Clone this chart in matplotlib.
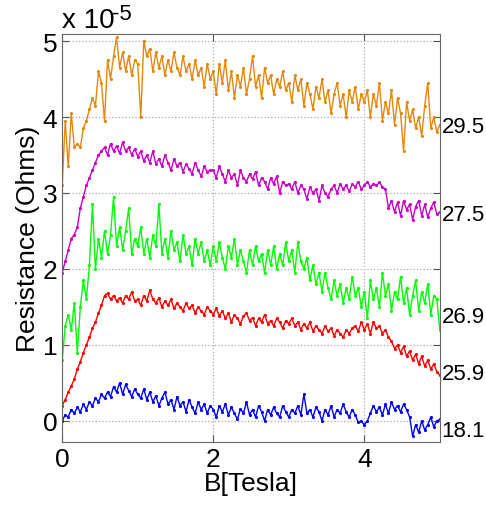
import numpy as np
import matplotlib
matplotlib.use("Agg")
import matplotlib.pyplot as plt

plt.rcParams['font.family'] = ['Liberation Sans', 'DejaVu Sans']

# field values, 0 .. 5 Tesla in steps of 0.04
B = np.linspace(0, 5, 126)

# resistance in units of 1e-5 Ohms
r_295 = [3.1, 3.95, 3.35, 4.05, 3.6, 3.65, 3.6, 3.85, 3.95, 4.1, 4.25, 4.15, 4.6, 4.45, 3.95, 4.75, 4.5, 4.8, 5.05, 4.65, 4.85, 4.6, 4.8, 4.55, 4.75,
         4.7, 4.0, 5.0, 4.8, 4.9, 4.6, 4.85, 4.65, 4.8, 4.55, 4.75, 4.6, 4.85, 4.65, 4.55, 4.8, 4.6, 4.7, 4.5, 4.75, 4.55, 4.65, 4.4, 4.7, 4.5,
         4.6, 4.3, 4.7, 4.45, 4.75, 4.35, 4.6, 4.25, 4.55, 4.4, 4.65, 4.3, 4.5, 4.8, 4.4, 4.55, 4.25, 4.65, 4.45, 4.55, 4.3, 4.5, 4.4, 4.6, 4.35,
         4.45, 4.2, 4.55, 4.35, 4.5, 4.15, 4.45, 4.3, 4.1, 4.4, 4.25, 4.5, 4.2, 4.35, 4.05, 4.3, 4.45, 4.15, 4.3, 4.0, 4.35, 4.2, 4.4, 4.1, 4.3,
         4.2, 4.35, 4.0, 4.3, 4.15, 4.45, 3.95, 4.2, 4.05, 4.35, 3.9, 4.25, 4.05, 3.55, 4.2, 3.95, 4.1, 3.85, 4.0, 3.75, 4.15, 4.45, 3.85, 4.0, 3.8,
         3.9]
r_275 = [1.95, 2.1, 2.25, 2.4, 2.45, 2.55, 2.8, 2.95, 3.1, 3.2, 3.3, 3.4, 3.5, 3.55, 3.6, 3.5, 3.65, 3.55, 3.62, 3.52, 3.67, 3.55, 3.6, 3.5, 3.58,
         3.48, 3.55, 3.42, 3.5, 3.4, 3.55, 3.38, 3.45, 3.35, 3.5, 3.4, 3.3, 3.45, 3.35, 3.4, 3.28, 3.38, 3.32, 3.25, 3.4, 3.3, 3.22, 3.35, 3.28, 3.3,
         3.3, 3.2, 3.35, 3.25, 3.15, 3.3, 3.2, 3.25, 3.1, 3.3, 3.2, 3.15, 3.25, 3.18, 3.28, 3.1, 3.2, 3.15, 3.05, 3.2, 3.12, 3.22, 3.0, 3.15, 3.1,
         3.12, 3.05, 3.15, 3.0, 3.1, 3.05, 2.92, 3.08, 3.0, 3.05, 2.9, 3.1, 3.0, 2.95, 3.05, 3.1, 3.0, 3.12, 3.05, 3.1, 3.02, 3.12, 3.08, 3.15, 3.05,
         3.1, 3.15, 3.08, 3.12, 3.1, 3.14, 3.08, 3.05, 2.8, 2.9, 2.75, 2.88, 2.7, 2.9, 2.78, 2.85, 2.65, 2.82, 2.9, 2.7, 2.85, 2.68, 2.8, 2.88, 2.72,
         2.75]
r_269 = [0.8, 1.25, 1.4, 1.2, 1.55, 0.9, 1.5, 1.85, 1.6, 2.05, 2.85, 2.0, 2.4, 2.15, 2.5, 2.2, 2.45, 2.95, 2.3, 2.55, 2.25, 2.5, 2.8, 2.2, 2.4,
         2.3, 2.55, 2.2, 2.4, 2.15, 2.45, 2.3, 2.85, 2.2, 2.4, 2.15, 2.5, 2.25, 2.35, 2.1, 2.45, 2.2, 2.3, 2.05, 2.4, 2.2, 2.35, 2.1, 2.25, 2.05,
         2.3, 2.1, 2.35, 2.15, 2.0, 2.3, 2.15, 2.4, 2.05, 2.25, 2.1, 1.95, 2.25, 2.05, 2.3, 2.1, 2.2, 1.95, 2.25, 2.05, 2.3, 2.0, 2.2, 2.05, 2.35,
         2.1, 2.25, 1.95, 2.35, 2.1, 2.0, 2.15, 1.85, 2.05, 1.8, 1.95, 1.7, 1.95, 1.75, 1.6, 1.85, 1.65, 1.8, 1.55, 1.75, 1.6, 1.9, 1.65, 1.75, 1.5,
         1.7, 1.35, 1.85, 1.6, 1.75, 1.5, 1.95, 1.65, 1.8, 1.45, 1.7, 1.6, 1.9, 1.55, 1.75, 1.4, 1.65, 1.85, 1.45, 1.7, 1.55, 1.8, 1.4, 1.65, 1.6,
         1.2]
r_259 = [0.2, 0.28, 0.38, 0.46, 0.55, 0.68, 0.78, 0.9, 1.0, 1.1, 1.22, 1.3, 1.42, 1.52, 1.65, 1.68, 1.6, 1.65, 1.58, 1.62, 1.55, 1.65, 1.6, 1.7, 1.58,
         1.6, 1.52, 1.65, 1.58, 1.72, 1.6, 1.55, 1.62, 1.5, 1.58, 1.52, 1.6, 1.48, 1.55, 1.5, 1.45, 1.55, 1.48, 1.52, 1.42, 1.5, 1.45, 1.4, 1.5, 1.45,
         1.4, 1.48, 1.38, 1.45, 1.35, 1.42, 1.3, 1.4, 1.35, 1.28, 1.38, 1.42, 1.32, 1.36, 1.25, 1.35, 1.3, 1.4, 1.28, 1.32, 1.25, 1.35, 1.3, 1.22, 1.32,
         1.28, 1.35, 1.25, 1.3, 1.2, 1.28, 1.22, 1.3, 1.18, 1.25, 1.2, 1.15, 1.25, 1.18, 1.22, 1.12, 1.2, 1.15, 1.1, 1.2, 1.15, 1.22, 1.25, 1.18, 1.3,
         1.2, 1.28, 1.15, 1.3, 1.22, 1.25, 1.15, 1.2, 1.1, 1.05, 0.95, 1.0, 0.9, 0.98, 0.85, 0.92, 0.8, 0.88, 0.75, 0.85, 0.72, 0.8, 0.68, 0.75, 0.65,
         0.6]
r_181 = [0.0, 0.08, 0.05, 0.15, 0.1, 0.18, 0.12, 0.22, 0.15, 0.25, 0.2, 0.3, 0.25, 0.35, 0.3, 0.38, 0.32, 0.45, 0.38, 0.5, 0.35, 0.48, 0.4, 0.32, 0.42,
         0.35, 0.3, 0.42, 0.28, 0.38, 0.25, 0.33, 0.2, 0.3, 0.38, 0.22, 0.28, 0.15, 0.32, 0.2, 0.25, 0.12, 0.28, 0.18, 0.1, 0.25, 0.15, 0.22, 0.1, 0.2,
         0.15, 0.05, 0.2, 0.12, 0.22, 0.08, 0.18, 0.1, 0.02, 0.16, 0.1, 0.25, 0.08, 0.15, 0.05, 0.2, 0.12, 0.0, 0.15, 0.08, 0.18, 0.1, 0.05, 0.2, 0.12,
         0.05, 0.15, 0.1, 0.2, 0.08, 0.35, 0.1, 0.15, 0.05, 0.18, 0.12, 0.0, 0.15, 0.08, 0.2, 0.05, 0.15, 0.1, 0.22, 0.12, 0.05, 0.15, 0.08, -0.02, 0.0,
         -0.05, 0.0, 0.1, 0.2, 0.12, 0.18, 0.08, 0.22, 0.1, 0.25, 0.15, 0.2, 0.12, 0.22, 0.15, 0.05, -0.2, -0.05, -0.15, 0.0, -0.12, -0.05, 0.05, -0.08, 0.0,
         0.02]

series = [r_295, r_275, r_269, r_259, r_181]
temps = ['29.5', '27.5', '26.9', '25.9', '18.1']
label_y = [3.87, 2.72, 1.37, 0.62, -0.13]
colors = ['#E6870A', '#C800C8', '#00FF00', '#FF0000', '#0000FF']

fig = plt.figure(figsize=(4.86, 5.10), dpi=100)
ax = fig.add_axes([0.128, 0.131, 0.777, 0.8])

for r, c in zip(series, colors):
    ax.plot(B, r, color=c, lw=1.0, marker='.', ms=2.5)

for t, y in zip(temps, label_y):
    ax.text(1.005, y, t, transform=ax.get_yaxis_transform(), ha='left', va='center', fontsize=16)

ax.set_xlim(0, 5)
ax.set_ylim(-0.28, 5.09)
ax.set_xticks([0, 2, 4])
ax.set_yticks([0, 1, 2, 3, 4, 5])
ax.tick_params(direction='in', top=True, right=True, labelsize=19, length=5, color='#555555')
ax.grid(True, linestyle=':', color='#aaaaaa', lw=0.9)
for s in ax.spines.values():
    s.set_color('#666666')

ax.set_xlabel('B[Tesla]', fontsize=19, labelpad=0)
ax.set_ylabel('Resistance (Ohms)', fontsize=19, labelpad=2)

# exponent note in the top-left corner, as in the original
ax.text(0.0, 1.017, 'x 10', transform=ax.transAxes, ha='left', va='baseline', fontsize=20)
ax.text(0.133, 1.037, '-5', transform=ax.transAxes, ha='left', va='baseline', fontsize=16)

fig.savefig('out.png', dpi=100)
